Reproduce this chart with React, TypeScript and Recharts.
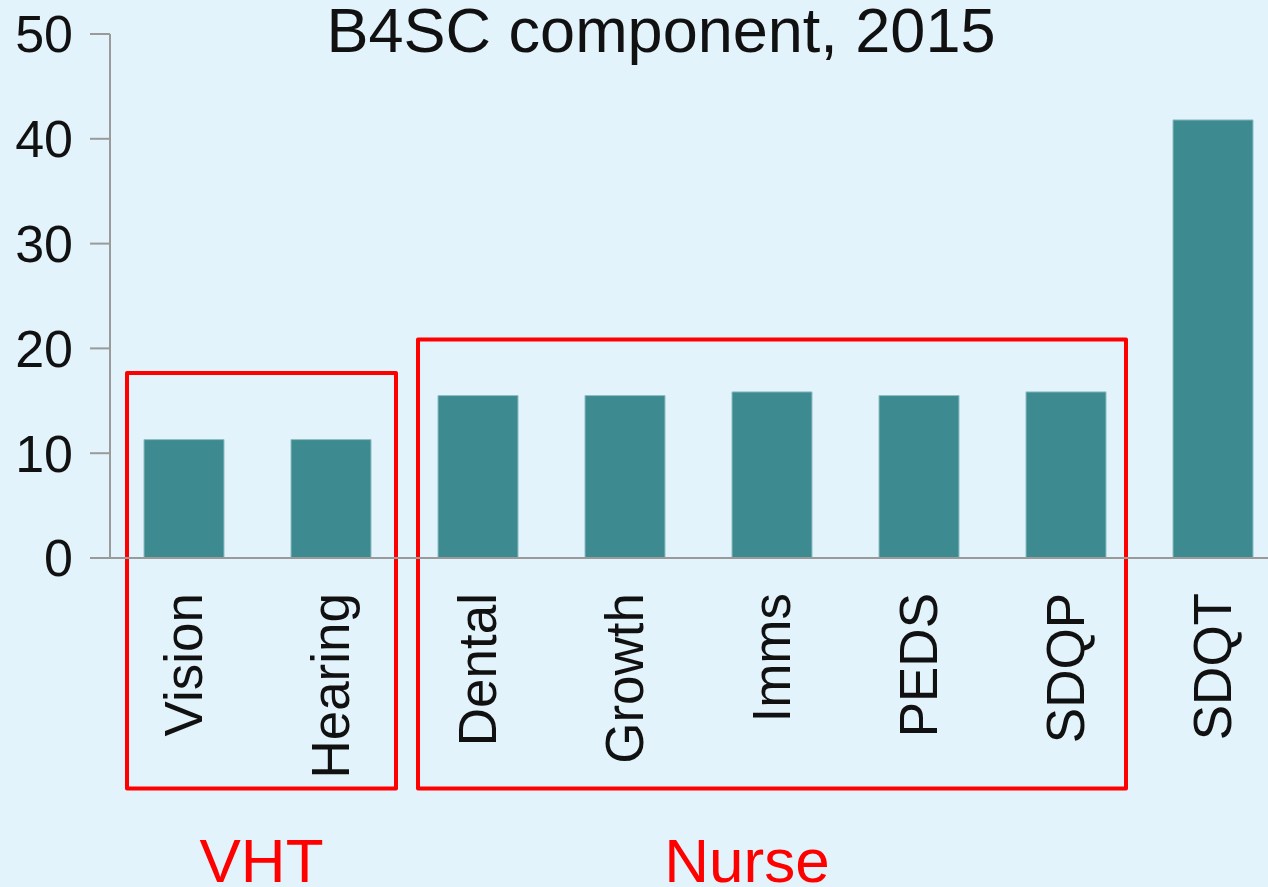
import { BarChart, Bar, XAxis, YAxis, ReferenceArea } from "recharts";

const categories = ["Vision", "Hearing", "Dental", "Growth", "Imms", "PEDS", "SDQP", "SDQT"];
const values = [11.3, 11.3, 15.5, 15.5, 15.85, 15.5, 15.85, 41.8];
const yTicks = [0, 10, 20, 30, 40, 50];

// annotation groups (who does which check)
const groupNames = ["VHT", "Nurse"];
const groupFirst = ["Vision", "Dental"];
const groupLast = ["Hearing", "SDQP"];
const groupTop = [17.65, 20.85];
const groupBottom = [-22, -22];

const data = categories.map((name, i) => ({ name, value: values[i] }));

const FONT = '"Liberation Sans", Arial, Helvetica, sans-serif';
const BG = "#e2f3fb";
const BAR = "#3d8b90";
const AXIS = "#9a9a9a";
const RED = "#ff0000";

// small insets so the boxes sit a little inside the category bands
const boxInset = [
  { left: 17, right: 8, labelDx: 0 },
  { left: 14, right: 13, labelDx: -25 },
];

function VerticalTick({ x, y, payload }: any) {
  return (
    <text
      x={x}
      y={y}
      transform={`rotate(-90, ${x}, ${y})`}
      textAnchor="end"
      dy="0.35em"
      fontSize={53}
      fontFamily={FONT}
      fill="#111"
    >
      {payload.value}
    </text>
  );
}

function makeBox(i: number) {
  return (props: any) => {
    const { x, y, width, height } = props;
    const ins = boxInset[i];
    const left = x + ins.left;
    const w = width - ins.left - ins.right;
    return (
      <g>
        <rect
          x={left}
          y={y}
          width={w}
          height={height}
          fill="none"
          stroke={RED}
          strokeWidth={4}
          strokeLinejoin="round"
        />
        <text
          x={left + w / 2 + ins.labelDx}
          y={y + height + 93}
          textAnchor="middle"
          fontSize={62}
          fontFamily={FONT}
          fill={RED}
        >
          {groupNames[i]}
        </text>
      </g>
    );
  };
}

export default function App() {
  return (
    <div
      style={{
        position: "fixed",
        left: 0,
        top: 0,
        width: 1268,
        height: 887,
        overflow: "hidden",
        background: BG,
      }}
    >
      <BarChart
        width={1300}
        height={887}
        data={data}
        margin={{ top: 34, right: 14, bottom: 0, left: 0 }}
      >
        <XAxis
          dataKey="name"
          interval={0}
          height={329}
          tickLine={false}
          tickSize={0}
          tickMargin={35}
          tick={<VerticalTick />}
          axisLine={{ stroke: AXIS, strokeWidth: 2 }}
        />
        <YAxis
          width={110}
          domain={[0, 50]}
          ticks={yTicks}
          tickSize={20}
          tickMargin={17}
          axisLine={{ stroke: AXIS, strokeWidth: 2 }}
          tickLine={{ stroke: AXIS, strokeWidth: 2 }}
          tick={{ fontSize: 52, fill: "#111", fontFamily: FONT }}
        />
        <Bar
          dataKey="value"
          fill={BAR}
          stroke="#8cbec2"
          strokeWidth={1}
          barSize={80}
          isAnimationActive={false}
        />
        {groupNames.map((g, i) => (
          <ReferenceArea
            key={g}
            x1={groupFirst[i]}
            x2={groupLast[i]}
            y1={groupBottom[i]}
            y2={groupTop[i]}
            ifOverflow="visible"
            shape={makeBox(i)}
          />
        ))}
      </BarChart>
      <svg
        width={1268}
        height={80}
        style={{ position: "absolute", left: 0, top: 0, pointerEvents: "none" }}
      >
        <text
          x={661}
          y={52}
          textAnchor="middle"
          fontSize={63}
          fontFamily={FONT}
          fill="#111"
        >
          B4SC component, 2015
        </text>
      </svg>
    </div>
  );
}
